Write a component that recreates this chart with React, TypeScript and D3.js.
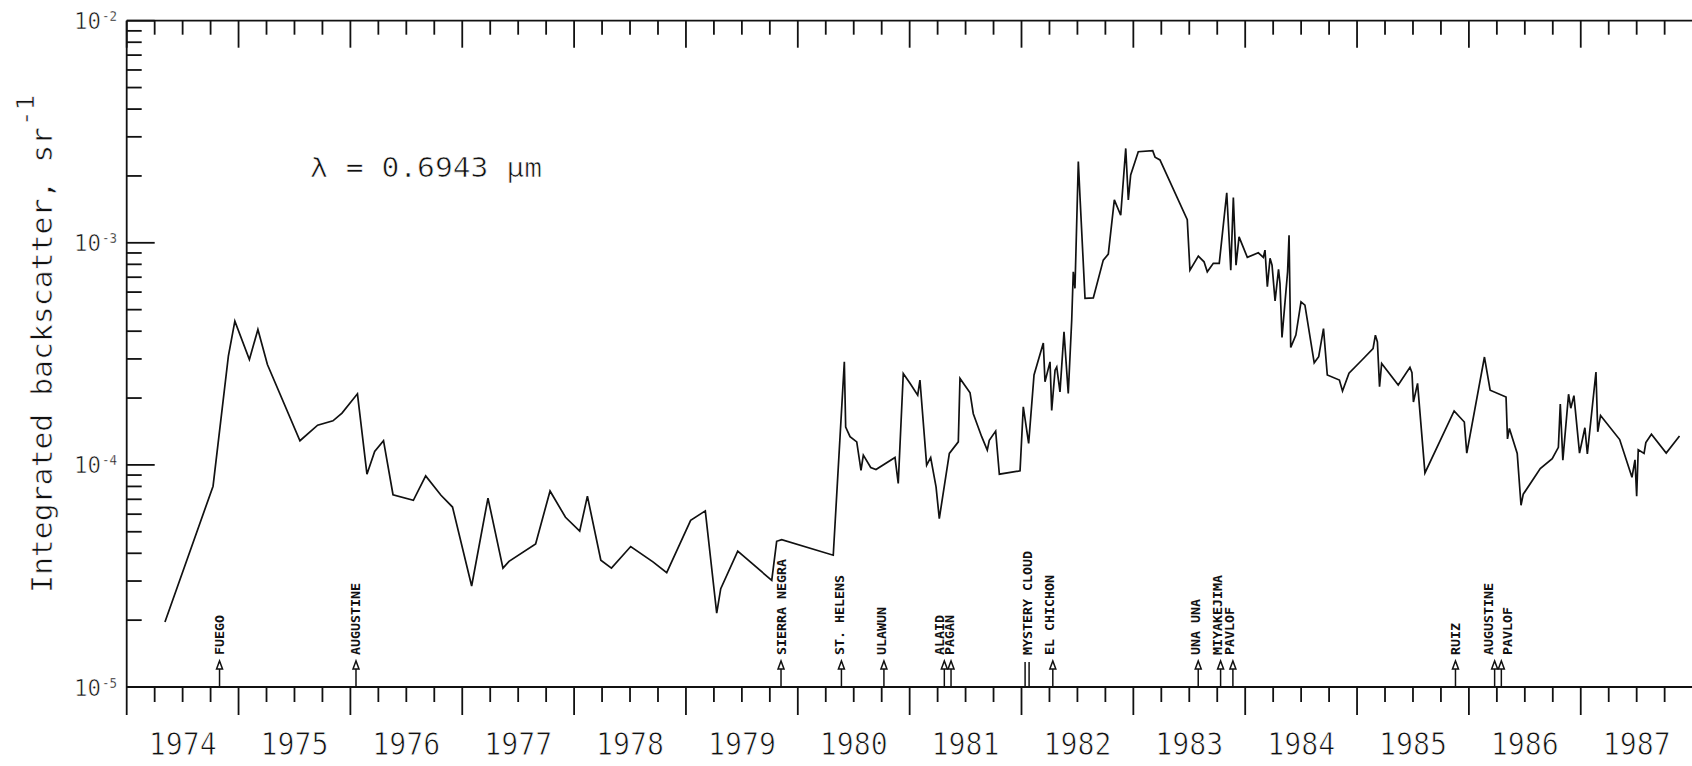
import React from "react";
import * as d3 from "d3";

// ---- data ----
const decimalYears = [
  1974.342, 1974.772, 1974.909, 1974.967, 1975.097, 1975.173, 1975.258, 1975.549, 1975.707, 1975.844,
  1975.925, 1976.063, 1976.148, 1976.217, 1976.296, 1976.381, 1976.563, 1976.673, 1976.810, 1976.913,
  1977.084, 1977.230, 1977.364, 1977.418, 1977.656, 1977.785, 1977.923, 1978.050, 1978.119, 1978.239,
  1978.334, 1978.506, 1978.705, 1978.828, 1979.042, 1979.173, 1979.275, 1979.311, 1979.463, 1979.767,
  1979.811, 1979.856, 1980.317, 1980.416, 1980.428, 1980.467, 1980.527, 1980.565, 1980.586, 1980.652,
  1980.699, 1980.869, 1980.898, 1980.943, 1981.003, 1981.072, 1981.092, 1981.152, 1981.188, 1981.236,
  1981.265, 1981.355, 1981.435, 1981.450, 1981.540, 1981.569, 1981.644, 1981.694, 1981.712, 1981.769,
  1981.802, 1981.987, 1982.016, 1982.064, 1982.112, 1982.195, 1982.210, 1982.255, 1982.270, 1982.300,
  1982.315, 1982.344, 1982.380, 1982.418, 1982.449, 1982.463, 1982.478, 1982.508, 1982.523, 1982.568,
  1982.642, 1982.731, 1982.776, 1982.830, 1982.887, 1982.932, 1982.955, 1982.976, 1983.044, 1983.173,
  1983.194, 1983.238, 1983.482, 1983.506, 1983.581, 1983.632, 1983.661, 1983.715, 1983.768, 1983.835,
  1983.871, 1983.894, 1983.918, 1983.945, 1984.019, 1984.117, 1984.162, 1984.177, 1984.198, 1984.222,
  1984.240, 1984.267, 1984.298, 1984.311, 1984.329, 1984.379, 1984.392, 1984.407, 1984.453, 1984.499,
  1984.534, 1984.617, 1984.657, 1984.700, 1984.734, 1984.842, 1984.870, 1984.928, 1985.042, 1985.143,
  1985.164, 1985.182, 1985.201, 1985.220, 1985.368, 1985.473, 1985.491, 1985.504, 1985.541, 1985.607,
  1985.868, 1985.959, 1985.981, 1986.139, 1986.190, 1986.332, 1986.345, 1986.362, 1986.432, 1986.466,
  1986.486, 1986.638, 1986.745, 1986.800, 1986.817, 1986.840, 1986.891, 1986.911, 1986.939, 1986.989,
  1987.037, 1987.059, 1987.136, 1987.152, 1987.177, 1987.348, 1987.458, 1987.485, 1987.500, 1987.514,
  1987.566, 1987.582, 1987.632, 1987.764, 1987.883,
];

const backscatter = [
  1.96e-5, 8.02e-5, 3.09e-4, 4.44e-4, 2.98e-4, 4.07e-4, 2.83e-4, 1.285e-4, 1.51e-4, 1.58e-4,
  1.71e-4, 2.09e-4, 9.08e-5, 1.15e-4, 1.285e-4, 7.34e-5, 6.93e-5, 8.92e-5, 7.30e-5, 6.46e-5,
  2.85e-5, 7.09e-5, 3.43e-5, 3.68e-5, 4.41e-5, 7.63e-5, 5.81e-5, 5.03e-5, 7.23e-5, 3.72e-5,
  3.43e-5, 4.29e-5, 3.66e-5, 3.27e-5, 5.63e-5, 6.21e-5, 2.15e-5, 2.77e-5, 4.09e-5, 3.02e-5,
  4.53e-5, 4.61e-5, 3.92e-5, 2.91e-4, 1.48e-4, 1.34e-4, 1.27e-4, 9.46e-5, 1.106e-4, 9.73e-5,
  9.53e-5, 1.08e-4, 8.25e-5, 2.58e-4, 2.33e-4, 2.06e-4, 2.41e-4, 9.97e-5, 1.08e-4, 7.96e-5,
  5.73e-5, 1.126e-4, 1.27e-4, 2.45e-4, 2.11e-4, 1.70e-4, 1.34e-4, 1.165e-4, 1.29e-4, 1.42e-4,
  9.08e-5, 9.40e-5, 1.825e-4, 1.25e-4, 2.54e-4, 3.54e-4, 2.37e-4, 2.91e-4, 1.76e-4, 2.67e-4,
  2.76e-4, 2.13e-4, 3.97e-4, 2.10e-4, 4.49e-4, 7.40e-4, 6.23e-4, 2.32e-3, 1.61e-3, 5.62e-4,
  5.65e-4, 8.36e-4, 8.89e-4, 1.56e-3, 1.33e-3, 2.66e-3, 1.56e-3, 2.02e-3, 2.57e-3, 2.60e-3,
  2.43e-3, 2.36e-3, 1.27e-3, 7.53e-4, 8.71e-4, 8.21e-4, 7.40e-4, 8.08e-4, 8.08e-4, 1.68e-3,
  7.53e-4, 1.60e-3, 7.93e-4, 1.064e-3, 8.60e-4, 9.02e-4, 8.60e-4, 9.27e-4, 6.34e-4, 8.51e-4,
  7.93e-4, 5.48e-4, 7.59e-4, 6.56e-4, 3.75e-4, 7.40e-4, 1.08e-3, 3.38e-4, 3.84e-4, 5.42e-4,
  5.24e-4, 2.88e-4, 3.07e-4, 4.11e-4, 2.54e-4, 2.41e-4, 2.15e-4, 2.59e-4, 2.96e-4, 3.34e-4,
  3.84e-4, 3.58e-4, 2.25e-4, 2.86e-4, 2.29e-4, 2.75e-4, 2.60e-4, 1.92e-4, 2.33e-4, 9.20e-5,
  1.75e-4, 1.56e-4, 1.13e-4, 3.06e-4, 2.17e-4, 2.02e-4, 1.31e-4, 1.46e-4, 1.126e-4, 6.58e-5,
  7.38e-5, 9.63e-5, 1.066e-4, 1.20e-4, 1.88e-4, 1.05e-4, 2.08e-4, 1.80e-4, 2.05e-4, 1.13e-4,
  1.47e-4, 1.12e-4, 2.62e-4, 1.41e-4, 1.67e-4, 1.30e-4, 8.80e-5, 1.054e-4, 7.23e-5, 1.17e-4,
  1.126e-4, 1.26e-4, 1.375e-4, 1.13e-4, 1.35e-4,
];

const yearLabels = [1974, 1975, 1976, 1977, 1978, 1979, 1980, 1981, 1982, 1983, 1984, 1985, 1986, 1987];
const decadeValues = [1e-5, 1e-4, 1e-3, 1e-2];
const decadeExponents = ["-5", "-4", "-3", "-2"];

const volcanoNames = [
  "FUEGO", "AUGUSTINE", "SIERRA NEGRA", "ST. HELENS", "ULAWUN", "ALAID", "PAGAN",
  "MYSTERY CLOUD", "EL CHICHON", "UNA UNA", "MIYAKEJIMA", "PAVLOF", "RUIZ", "AUGUSTINE", "PAVLOF",
];
const eruptionDates = [
  1974.83, 1976.05, 1979.85, 1980.39, 1980.77, 1981.31, 1981.37,
  1982.05, 1982.28, 1983.58, 1983.78, 1983.89, 1985.88, 1986.23, 1986.29,
];
// horizontal nudge of each label relative to its arrow (px), to avoid overlaps
const labelNudge = [0, 0, 0, -2, -2, -5, -2, 0, -3, -3, -3, -3, 0, -6, 6];

const yAxisTitle = "Integrated backscatter, sr";
const yAxisTitleExp = "-1";
const wavelengthLabel = "\u03bb = 0.6943 \u03bcm";

// ---- layout ----
const W = 1692;
const H = 766;
const X0 = 126.7;
const X1 = 1692.6;
const YT = 20.7;
const YB = 687;
const MONO = "'DejaVu Sans Mono', 'Liberation Mono', monospace";

export default function App() {
  const x = d3.scaleLinear().domain([1974, 1988]).range([X0, X1]);
  const y = d3.scaleLog().domain([1e-5, 1e-2]).range([YB, YT]);

  const pts: [number, number][] = decimalYears.map((t, i) => [t, backscatter[i]]);
  const linePath = d3
    .line<[number, number]>()
    .x((d) => x(d[0]))
    .y((d) => y(d[1]))(pts) as string;

  const quarters = d3.range(0, 14 * 4 + 1).map((k) => 1974 + k / 4);
  const minorY: number[] = [];
  for (let e = -5; e < -2; e++) {
    for (let k = 2; k <= 9; k++) minorY.push(k * Math.pow(10, e));
  }

  return (
    <svg
      width={W}
      height={H}
      viewBox={`0 0 ${W} ${H}`}
      style={{ position: "absolute", left: 0, top: 0, background: "#fff" }}
    >
      <rect x={0} y={0} width={W} height={H} fill="#fff" />

      {/* frame */}
      <g stroke="#111" strokeWidth={1.8} fill="none">
        <line x1={X0} y1={YT} x2={W} y2={YT} />
        <line x1={X0} y1={YB} x2={W} y2={YB} />
        <line x1={X0} y1={YT} x2={X0} y2={YB} />
      </g>

      {/* bottom ticks (outward) and top ticks (inward) */}
      <g stroke="#111" strokeWidth={1.8}>
        {quarters.map((q, i) => {
          const major = i % 4 === 0;
          const px = x(q);
          if (px > W) return null;
          return (
            <g key={"q" + i}>
              <line x1={px} y1={YB} x2={px} y2={YB + (major ? 28 : 15)} />
              <line x1={px} y1={YT} x2={px} y2={YT + (major ? 27 : 14)} />
            </g>
          );
        })}
      </g>

      {/* left ticks (inward) */}
      <g stroke="#111" strokeWidth={1.8}>
        {decadeValues.map((v) => (
          <line key={"d" + v} x1={X0} y1={y(v)} x2={X0 + 28} y2={y(v)} />
        ))}
        {minorY.map((v) => (
          <line key={"m" + v} x1={X0} y1={y(v)} x2={X0 + 15} y2={y(v)} />
        ))}
      </g>

      {/* y tick labels */}
      <g fontFamily={MONO} fill="#111" stroke="#fff" strokeWidth={0.6}>
        {decadeValues.map((v, i) => (
          <g key={"l" + v}>
            <text x={101} y={y(v) + 8.5} fontSize={23} textAnchor="end" textLength={27} lengthAdjust="spacingAndGlyphs">
              10
            </text>
            <text x={102} y={y(v) + 0.5} fontSize={14} textAnchor="start" textLength={15} lengthAdjust="spacingAndGlyphs" strokeWidth={0.3}>
              {decadeExponents[i]}
            </text>
          </g>
        ))}
      </g>

      {/* year labels */}
      <g fontFamily={MONO} fill="#111" stroke="#fff" strokeWidth={0.9}>
        {yearLabels.map((yr) => (
          <text
            key={"y" + yr}
            x={x(yr + 0.5)}
            y={755}
            fontSize={32}
            textAnchor="middle"
            textLength={68}
            lengthAdjust="spacingAndGlyphs"
          >
            {yr}
          </text>
        ))}
      </g>

      {/* y axis title */}
      <g fontFamily={MONO} fill="#111" stroke="#fff" strokeWidth={0.6}>
        <text
          transform={`translate(52,593) rotate(-90)`}
          fontSize={28}
          textLength={466}
          lengthAdjust="spacingAndGlyphs"
        >
          {yAxisTitle}
        </text>
        <text
          transform={`translate(34,126) rotate(-90)`}
          fontSize={25}
          textLength={31}
          lengthAdjust="spacingAndGlyphs"
        >
          {yAxisTitleExp}
        </text>
      </g>

      {/* wavelength */}
      <text
        x={310}
        y={177}
        fontFamily={MONO}
        fontSize={26}
        fill="#111"
        stroke="#fff"
        strokeWidth={0.6}
        textLength={232}
        lengthAdjust="spacingAndGlyphs"
      >
        {wavelengthLabel}
      </text>

      {/* data line */}
      <path d={linePath} fill="none" stroke="#111" strokeWidth={1.7} strokeLinejoin="miter" />

      {/* volcanic eruption markers */}
      <g>
        {volcanoNames.map((name, i) => {
          const ax = x(eruptionDates[i]);
          const lx = ax + labelNudge[i];
          const isCloud = name === "MYSTERY CLOUD";
          return (
            <g key={"v" + i}>
              {isCloud ? (
                <g stroke="#111" strokeWidth={1.5}>
                  <line x1={ax - 2} y1={YB} x2={ax - 2} y2={662} />
                  <line x1={ax + 2} y1={YB} x2={ax + 2} y2={662} />
                </g>
              ) : (
                <g stroke="#111" strokeWidth={1.5}>
                  <line x1={ax} y1={YB} x2={ax} y2={662} />
                  <path d={`M${ax - 3},669 L${ax},661 L${ax + 3},669 Z`} fill="#fff" />
                </g>
              )}
              <text
                transform={`translate(${lx + 4.5},655) rotate(-90)`}
                fontFamily={MONO}
                fontSize={12}
                fontWeight="bold"
                fill="#111"
                textLength={name.length * 8}
                lengthAdjust="spacingAndGlyphs"
              >
                {name}
              </text>
            </g>
          );
        })}
      </g>
    </svg>
  );
}
